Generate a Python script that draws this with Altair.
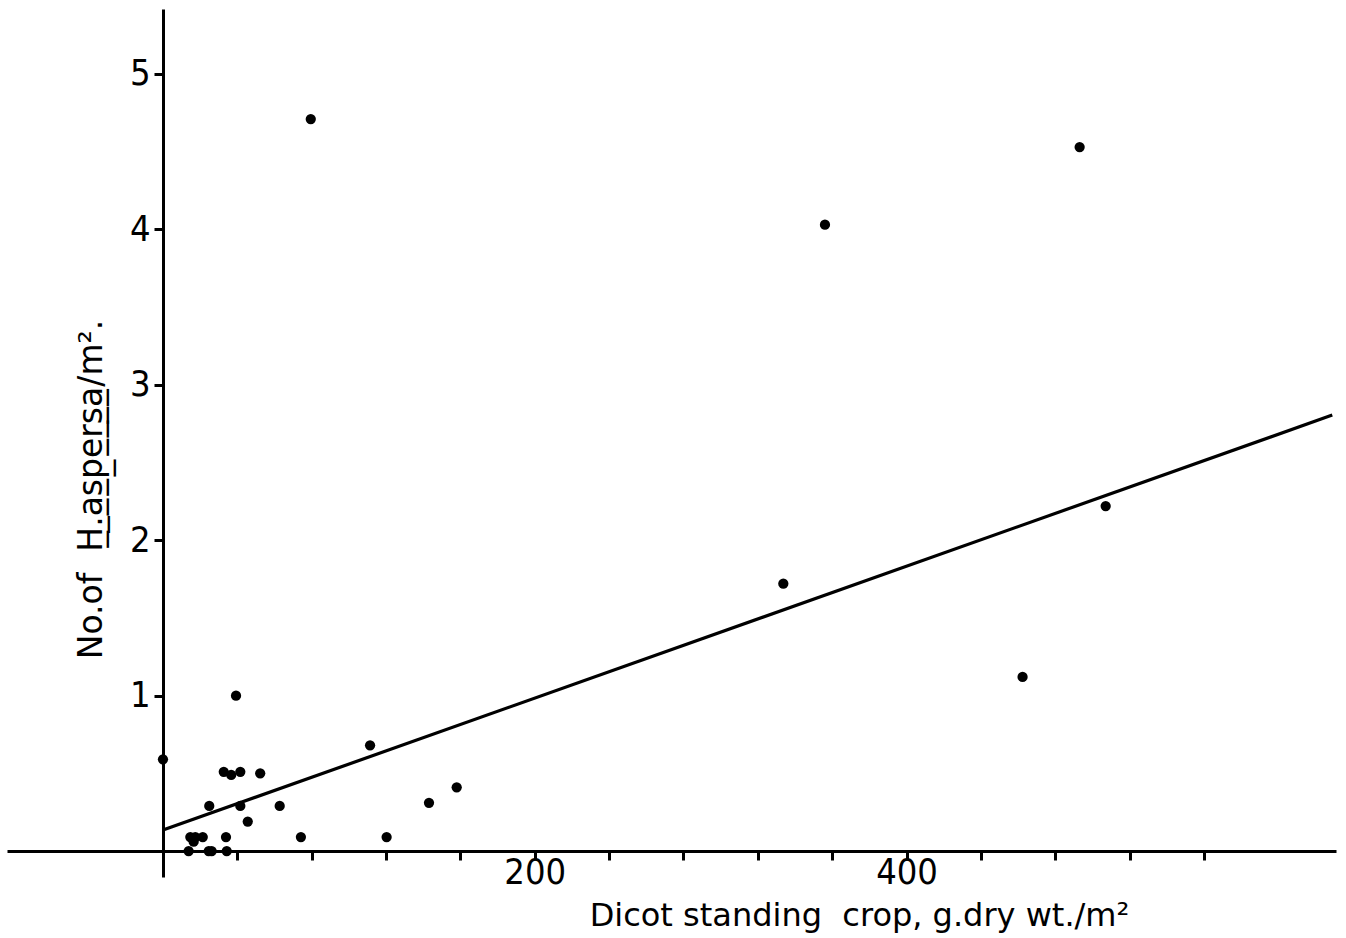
import altair as alt
import pandas as pd

# Dicot standing crop (g dry wt / m2) and number of H. aspersa per m2
crop = [0, 13.8, 14.7, 16.5, 17.4, 21.4, 24.6, 26.2, 24.9, 32.7, 33.9, 34.3,
        36.7, 39.3, 41.6, 41.6, 45.6, 52.3, 62.8, 74.2, 79.5, 111.4, 120.3,
        143.1, 158.0, 333.7, 356.1, 462.4, 493.1, 507.1]
snails = [0.59, 0.0, 0.09, 0.06, 0.09, 0.09, 0.0, 0.0, 0.29, 0.51, 0.09, 0.0,
          0.49, 1.0, 0.51, 0.29, 0.19, 0.50, 0.29, 0.09, 4.71, 0.68, 0.09,
          0.31, 0.41, 1.72, 4.03, 1.12, 4.53, 2.22]

# fitted regression line end points
fit_x = [0, 629]
fit_y = [0.135, 2.805]

x_tick_values = [40, 80, 120, 160, 200, 240, 280, 320, 360, 400, 440, 480, 520, 560]
y_tick_values = [1, 2, 3, 4, 5]

x_title = "Dicot standing\u00a0 crop, g.dry wt./m\u00b2"
y_title = "No.of\u00a0 " + "".join(c + "\u0332" for c in "H.aspersa") + "/m\u00b2."

pts = pd.DataFrame({"crop": crop, "snails": snails})
fit = pd.DataFrame({"crop": fit_x, "snails": fit_y})

NARROW = "DejaVu Sans Condensed, DejaVu Sans"
REGULAR = "DejaVu Sans"

xs = alt.Scale(domain=[-83.9, 631], nice=False, zero=False)
ys = alt.Scale(domain=[-0.167, 5.418], nice=False, zero=False)

x_axis = alt.Axis(
    values=x_tick_values,
    labelExpr="datum.value == 200 || datum.value == 400 ? datum.label : ''",
    offset=-26, grid=False,
    domainColor="black", domainWidth=3,
    tickColor="black", tickWidth=3, tickSize=9,
    labelFont=NARROW, labelFontSize=36, labelColor="black", labelPadding=-5,
    title=x_title, titleFont=REGULAR, titleFontSize=32, titleFontWeight="normal",
    titleColor="black", titleX=852, titleY=74, titleAlign="center",
    titleBaseline="alphabetic",
)
y_axis = alt.Axis(
    values=y_tick_values, orient="left", format="d",
    offset=-156, grid=False,
    domainColor="black", domainWidth=3,
    tickColor="black", tickWidth=3, tickSize=9,
    labelFont=NARROW, labelFontSize=36, labelColor="black", labelPadding=4,
    title=y_title, titleFont=REGULAR, titleFontSize=33, titleFontWeight="normal",
    titleColor="black", titleX=-62, titleY=480, titleAngle=-90,
    titleAlign="center", titleBaseline="alphabetic",
)

points = alt.Chart(pts).mark_circle(size=105, color="black", opacity=1).encode(
    x=alt.X("crop:Q", scale=xs, axis=x_axis),
    y=alt.Y("snails:Q", scale=ys, axis=y_axis),
)
line = alt.Chart(fit).mark_line(color="black", strokeWidth=3.2).encode(
    x=alt.X("crop:Q", scale=xs),
    y=alt.Y("snails:Q", scale=ys),
)

chart = (line + points).properties(
    width=1329, height=868,
    autosize=alt.AutoSizeParams(type="none"),
    padding={"left": 7, "top": 9, "right": 10, "bottom": 61},
    background="white",
).configure_view(stroke=None)

chart.save("out.html", embed_options={"renderer": "svg", "actions": False})
